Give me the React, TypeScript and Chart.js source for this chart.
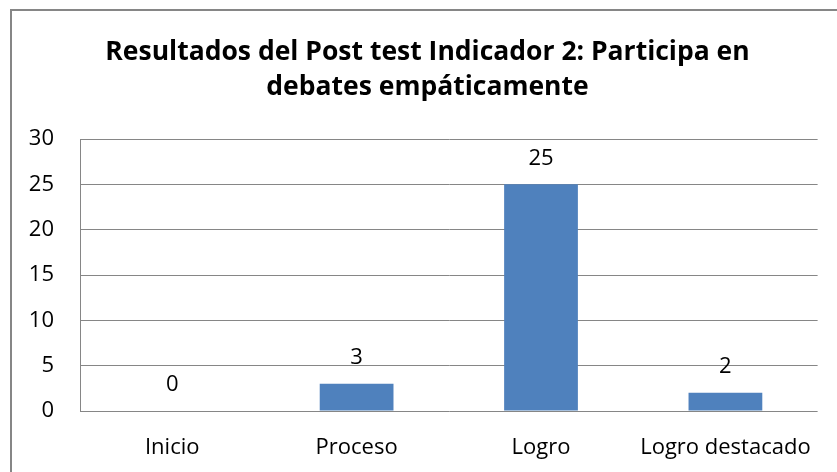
import React, { useEffect, useRef } from "react";
import { Chart, registerables } from "chart.js";

Chart.register(...registerables);

const TITLE_LINES = ["Resultados del Post test Indicador 2: Participa en", "debates empáticamente"];
const CATEGORIES = ["Inicio", "Proceso", "Logro", "Logro destacado"];
const VALUES = [0, 3, 25, 2];
const Y_MIN = 0;
const Y_MAX = 30;
const Y_STEP = 5;

const FONT = "'Open Sans', sans-serif";
const GRAY = "#868686";

const frame = {
  id: "frame",
  beforeDraw(chart: any) {
    const ctx = chart.ctx;
    ctx.save();
    ctx.fillStyle = "#ffffff";
    ctx.fillRect(0, 0, chart.width, chart.height);
    ctx.strokeStyle = GRAY;
    ctx.lineWidth = 2;
    ctx.beginPath();
    ctx.moveTo(11, chart.height + 5);
    ctx.lineTo(11, 10);
    ctx.lineTo(chart.width + 5, 10);
    ctx.stroke();
    // title
    ctx.fillStyle = "#000";
    ctx.font = `bold 26.5px ${FONT}`;
    ctx.textAlign = "center";
    ctx.textBaseline = "middle";
    TITLE_LINES.forEach((line, i) => {
      ctx.fillText(line, 427.5, 52 + i * 35);
    });
    ctx.restore();
  },
};

const valueLabels = {
  id: "valueLabels",
  afterDatasetsDraw(chart: any) {
    const ctx = chart.ctx;
    const meta = chart.getDatasetMeta(0);
    ctx.save();
    ctx.fillStyle = "#000";
    ctx.font = `22px ${FONT}`;
    ctx.textAlign = "center";
    ctx.textBaseline = "middle";
    meta.data.forEach((bar: any, i: number) => {
      ctx.fillText(String(chart.data.datasets[0].data[i]), bar.x, bar.y - 26);
    });
    ctx.restore();
  },
};

export default function App() {
  const ref = useRef<HTMLCanvasElement>(null);
  useEffect(() => {
    if (!ref.current) return;
    const chart = new Chart(ref.current, {
      type: "bar",
      data: {
        labels: CATEGORIES,
        datasets: [
          {
            data: VALUES,
            backgroundColor: "#4F81BD",
            barPercentage: 0.4,
            categoryPercentage: 1,
          },
        ],
      },
      options: {
        responsive: false,
        animation: false,
        layout: { padding: { left: 0, right: 19, top: 139, bottom: 0 } },
        plugins: {
          legend: { display: false },
          tooltip: { enabled: false },
          title: { display: false },
        },
        scales: {
          x: {
            grid: { display: false, drawTicks: false },
            border: { display: false },
            ticks: { color: "#000", font: { family: FONT, size: 22 }, padding: 24, maxRotation: 0 },
            afterFit(s: any) {
              s.height = 61;
            },
          },
          y: {
            min: Y_MIN,
            max: Y_MAX,
            grid: { color: GRAY, drawTicks: false, lineWidth: 1 },
            border: { display: true, color: GRAY, width: 1 },
            ticks: { stepSize: Y_STEP, color: "#000", font: { family: FONT, size: 22 }, padding: 26 },
            afterFit(s: any) {
              s.width = 80;
            },
          },
        },
      },
      plugins: [frame, valueLabels],
    });
    return () => chart.destroy();
  }, []);
  return (
    <div style={{ position: "absolute", left: 0, top: 0, width: 837, height: 472 }}>
      <canvas ref={ref} width={837} height={472} />
    </div>
  );
}
